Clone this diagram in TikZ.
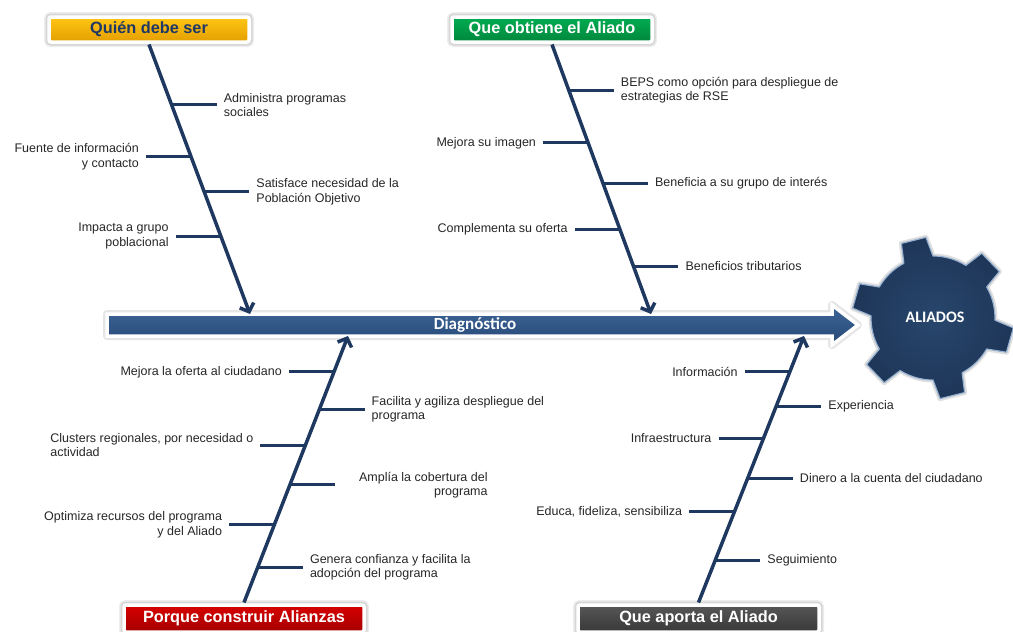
\documentclass[tikz,border=0pt]{standalone}
\usepackage{fontspec}
\setmainfont{Liberation Sans}
\newfontfamily\calibrifont{Carlito}
\usetikzlibrary{positioning,calc,arrows.meta}

\definecolor{navy}{RGB}{31,56,96}
\definecolor{titlenavy}{RGB}{31,56,100}
\definecolor{bartop}{RGB}{62,102,152}
\definecolor{barbot}{RGB}{38,72,118}
\definecolor{gearin}{RGB}{40,70,108}
\definecolor{gearout}{RGB}{30,54,88}
\definecolor{gearrim}{RGB}{150,176,208}

\begin{document}
\begin{tikzpicture}[x=1pt,y=-1pt,
	title/.style={rounded corners=2pt,minimum width=200pt,minimum height=25pt,inner sep=0pt,outer sep=2.5pt,
		draw=white,line width=3.5pt,font=\bfseries\fontsize{16.3}{18}\selectfont,text=white,
		preaction={draw=black!7,line width=10pt},preaction={draw=black!16,line width=7pt}},
	lbl/.style={font=\fontsize{12.5}{14.5}\selectfont,text=black!85,inner xsep=7pt,inner ysep=1pt,align=left},
	spine/.style={navy,line width=3.5pt,-{Straight Barb[length=7pt,width=15pt]}},
	rib/.style={navy,line width=3pt}]
	\useasboundingbox (0,0) rectangle (1013,632);

	\path[top color=bartop,bottom color=barbot,draw=white,line width=3.5pt,
		preaction={draw=black!10,line width=8pt,line join=round}]
		(107,314) -- (832,314) -- (832,305) -- (858,325) -- (832,345) -- (832,336) -- (107,336) -- cycle;
	\node[font=\calibrifont\bfseries\fontsize{17}{20}\selectfont,text=white] (diag) at (475,325) {Diagnóstico};

	\coordinate (gc) at (933,318);
	\path[inner color=gearin,outer color=gearout,draw=gearrim,line width=1.2pt,line join=round,
		preaction={draw=black!12,line width=5pt,line join=round}]
		($(gc)+(178:62pt)$) \foreach \a in {-136,-76,-16,44,104,164} {
			arc[start angle=\a-46,end angle=\a-14,radius=62pt]
			-- ($(gc)+(\a-9:81pt)$) -- ($(gc)+(\a+9:81pt)$) -- ($(gc)+(\a+14:62pt)$)} -- cycle;
	\node[font=\calibrifont\bfseries\fontsize{16}{19}\selectfont,text=white] (aliados) at (935,317) {ALIADOS};

	\node[title,top color={rgb,255:red,255;green,198;blue,20},bottom color={rgb,255:red,228;green,158;blue,0},text=titlenavy] (quien) at (149,29.5) {Quién debe ser};
	\node[title,top color={rgb,255:red,0;green,172;blue,82},bottom color={rgb,255:red,0;green,135;blue,60}] (obtiene) at (552,29.5) {Que obtiene el Aliado};
	\node[title,minimum width=240pt,minimum height=27pt,top color={rgb,255:red,215;green,0;blue,0},bottom color={rgb,255:red,165;green,0;blue,0}] (porque) at (244,618.5) {Porque construir Alianzas};
	\node[title,minimum width=241pt,minimum height=27pt,top color=black!66,bottom color=black!78] (aporta) at (698.5,618.5) {Que aporta el Aliado};

	\coordinate (qend) at (250,314);
	\coordinate (oend) at (651,314);
	\coordinate (pend) at (348,336);
	\coordinate (aend) at (804,336);
	\draw[spine] (quien.south) -- (qend);
	\draw[spine] (obtiene.south) -- (oend);
	\draw[spine] (porque.north) -- (pend);
	\draw[spine] (aporta.north) -- (aend);

	\coordinate (q1) at ($(quien.south)!.224!(qend)$);
	\coordinate (q2) at ($(quien.south)!.417!(qend)$);
	\coordinate (q3) at ($(quien.south)!.547!(qend)$);
	\coordinate (q4) at ($(quien.south)!.711!(qend)$);
	\node[lbl,right=45pt of q1] (q1t) {Administra programas\\sociales};
	\node[lbl,left=45pt of q2,align=right] (q2t) {Fuente de información\\y contacto};
	\node[lbl,right=45pt of q3] (q3t) {Satisface necesidad de la\\Población Objetivo};
	\node[lbl,left=45pt of q4,align=right] (q4t) {Impacta a grupo\\poblacional};
	\draw[rib] (q1) -- (q1t);
	\draw[rib] (q2) -- (q2t);
	\draw[rib] (q3) -- (q3t);
	\draw[rib] (q4) -- (q4t);

	\coordinate (o1) at ($(obtiene.south)!.169!(oend)$);
	\coordinate (o2) at ($(obtiene.south)!.365!(oend)$);
	\coordinate (o3) at ($(obtiene.south)!.514!(oend)$);
	\coordinate (o4) at ($(obtiene.south)!.685!(oend)$);
	\coordinate (o5) at ($(obtiene.south)!.822!(oend)$);
	\node[lbl,right=45pt of o1] (o1t) {BEPS como opción para despliegue de\\estrategias de RSE};
	\node[lbl,left=45pt of o2] (o2t) {Mejora su imagen};
	\node[lbl,right=45pt of o3] (o3t) {Beneficia a su grupo de interés};
	\node[lbl,left=45pt of o4] (o4t) {Complementa su oferta};
	\node[lbl,right=45pt of o5] (o5t) {Beneficios tributarios};
	\draw[rib] (o1) -- (o1t);
	\draw[rib] (o2) -- (o2t);
	\draw[rib] (o3) -- (o3t);
	\draw[rib] (o4) -- (o4t);
	\draw[rib] (o5) -- (o5t);

	\coordinate (p1) at ($(porque.north)!.865!(pend)$);
	\coordinate (p2) at ($(porque.north)!.726!(pend)$);
	\coordinate (p3) at ($(porque.north)!.591!(pend)$);
	\coordinate (p4) at ($(porque.north)!.441!(pend)$);
	\coordinate (p5) at ($(porque.north)!.291!(pend)$);
	\coordinate (p6) at ($(porque.north)!.133!(pend)$);
	\node[lbl,left=45pt of p1] (p1t) {Mejora la oferta al ciudadano};
	\node[lbl,right=45pt of p2] (p2t) {Facilita y agiliza despliegue del\\programa};
	\node[lbl,left=45pt of p3] (p3t) {Clusters regionales, por necesidad o\\actividad};
	\node[lbl,right=45pt of p4,align=right,inner xsep=24pt] (p4t) {Amplía la cobertura del\\programa};
	\node[lbl,left=45pt of p5,align=right] (p5t) {Optimiza recursos del programa\\y del Aliado};
	\node[lbl,right=45pt of p6] (p6t) {Genera confianza y facilita la\\adopción del programa};
	\draw[rib] (p1) -- (p1t);
	\draw[rib] (p2) -- (p2t);
	\draw[rib] (p3) -- (p3t);
	\draw[rib] (p4) -- (p4t);
	\draw[rib] (p5) -- (p5t);
	\draw[rib] (p6) -- (p6t);

	\coordinate (a1) at ($(aporta.north)!.865!(aend)$);
	\coordinate (a2) at ($(aporta.north)!.737!(aend)$);
	\coordinate (a3) at ($(aporta.north)!.617!(aend)$);
	\coordinate (a4) at ($(aporta.north)!.467!(aend)$);
	\coordinate (a5) at ($(aporta.north)!.340!(aend)$);
	\coordinate (a6) at ($(aporta.north)!.159!(aend)$);
	\node[lbl,left=45pt of a1] (a1t) {Información};
	\node[lbl,right=45pt of a2] (a2t) {Experiencia};
	\node[lbl,left=45pt of a3] (a3t) {Infraestructura};
	\node[lbl,right=45pt of a4] (a4t) {Dinero a la cuenta del ciudadano};
	\node[lbl,left=45pt of a5] (a5t) {Educa, fideliza, sensibiliza};
	\node[lbl,right=45pt of a6] (a6t) {Seguimiento};
	\draw[rib] (a1) -- (a1t);
	\draw[rib] (a2) -- (a2t);
	\draw[rib] (a3) -- (a3t);
	\draw[rib] (a4) -- (a4t);
	\draw[rib] (a5) -- (a5t);
	\draw[rib] (a6) -- (a6t);
\end{tikzpicture}
\end{document}
